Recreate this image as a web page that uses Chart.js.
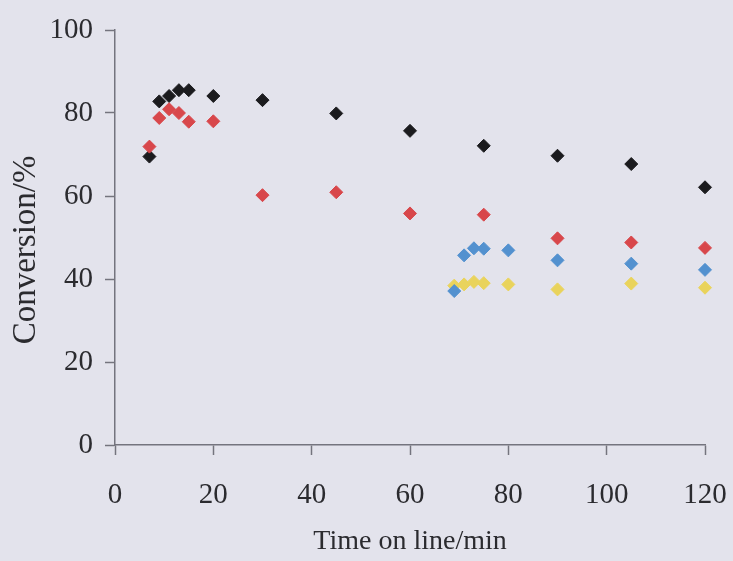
<!DOCTYPE html>
<html>
<head>
<meta charset="utf-8">
<script src="https://cdn.jsdelivr.net/npm/chart.js@4/dist/chart.umd.min.js"></script>
<style>
  html, body { margin: 0; padding: 0; background: #e3e3ec; }
  #wrap { width: 733px; height: 561px; }
</style>
</head>
<body>
<div id="wrap"><canvas id="chart" width="733" height="561"></canvas></div>
<script>

// time on line (min) and conversion (%) per series
const timesMain = [7, 9, 11, 13, 15, 20, 30, 45, 60, 75, 90, 105, 120];
const blackConv = [69.5, 82.8, 84.1, 85.5, 85.5, 84.1, 83.1, 79.9, 75.7, 72.1, 69.7, 67.7, 62.1];
const redConv = [71.9, 78.8, 80.9, 80.0, 77.9, 78.0, 60.2, 60.9, 55.8, 55.5, 49.8, 48.8, 47.5];

const timesLate = [69, 71, 73, 75, 80, 90, 105, 120];
const blueConv = [37.1, 45.7, 47.4, 47.3, 46.9, 44.5, 43.7, 42.2];
const yellowConv = [38.4, 38.7, 39.3, 39.0, 38.7, 37.5, 38.9, 37.9];

const xTicks = [0, 20, 40, 60, 80, 100, 120];
const yTicks = [0, 20, 40, 60, 80, 100];

const toPoints = (xs, ys) => xs.map((x, i) => ({ x: x, y: ys[i] }));

const series = (label, xs, ys, color, order) => ({
    label: label,
    data: toPoints(xs, ys),
    pointStyle: 'rectRot',
    pointRadius: 6.5,
    pointHoverRadius: 6.5,
    backgroundColor: color,
    borderColor: color,
    borderWidth: 1,
    showLine: false,
    clip: false,
    order: order
});

const axisColor = '#74747e';
const textColor = '#2b2b2f';
const serif = '"Liberation Serif", "DejaVu Serif", serif';

const ctx = document.getElementById('chart').getContext('2d');
new Chart(ctx, {
    type: 'scatter',
    data: {
        datasets: [
            series('A', timesMain, redConv, '#d8474b', 1),
            series('B', timesMain, blackConv, '#1b1b1e', 2),
            series('C', timesLate, blueConv, '#5391cf', 1),
            series('D', timesLate, yellowConv, '#e9d35c', 2)
        ]
    },
    options: {
        responsive: false,
        animation: false,
        layout: { padding: { top: 30, right: 28, left: 0, bottom: 0 } },
        plugins: {
            legend: { display: false },
            tooltip: { enabled: false }
        },
        scales: {
            x: {
                type: 'linear',
                min: 0,
                max: 120,
                afterBuildTicks: (scale) => { scale.ticks = xTicks.map(v => ({ value: v })); },
                afterFit: (scale) => {
                    scale.height = 116;
                    // labels may overhang the plot edges
                    scale.paddingLeft = 0;
                    scale.paddingRight = 0;
                },
                grid: { drawOnChartArea: false, drawTicks: true, tickLength: 10, tickColor: axisColor, tickWidth: 1.5 },
                border: { color: axisColor, width: 1.5 },
                ticks: { color: textColor, font: { family: serif, size: 29 }, padding: 23, maxRotation: 0 },
                title: {
                    display: true,
                    text: 'Time on line/min',
                    color: textColor,
                    font: { family: serif, size: 28 },
                    padding: { top: 0, bottom: 3 }
                }
            },
            y: {
                type: 'linear',
                min: 0,
                max: 100,
                afterBuildTicks: (scale) => { scale.ticks = yTicks.map(v => ({ value: v })); },
                afterFit: (scale) => {
                    scale.width = 115;
                    scale.paddingTop = 0;
                    scale.paddingBottom = 0;
                },
                grid: { drawOnChartArea: false, drawTicks: true, tickLength: 10, tickColor: axisColor, tickWidth: 1.5 },
                border: { color: axisColor, width: 1.5 },
                ticks: { color: textColor, font: { family: serif, size: 29 }, padding: 12 },
                title: {
                    display: true,
                    text: 'Conversion/%   ',
                    color: textColor,
                    font: { family: serif, size: 33 },
                    padding: { top: 7, bottom: 0 }
                }
            }
        }
    }
});

</script>
</body>
</html>
